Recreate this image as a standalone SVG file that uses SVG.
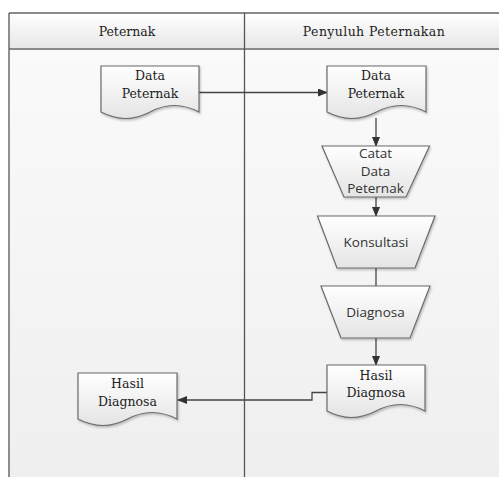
<svg xmlns="http://www.w3.org/2000/svg" width="499" height="477" viewBox="0 0 499 477">
  <defs>
    <linearGradient id="hdr" x1="0" y1="0" x2="0" y2="1">
      <stop offset="0" stop-color="#ffffff"/>
      <stop offset="1" stop-color="#e6e6e6"/>
    </linearGradient>
    <linearGradient id="body" x1="0" y1="0" x2="0" y2="1">
      <stop offset="0" stop-color="#fbfbfb"/>
      <stop offset="1" stop-color="#efefef"/>
    </linearGradient>
    <linearGradient id="shape" x1="0" y1="0" x2="0" y2="1">
      <stop offset="0" stop-color="#ffffff"/>
      <stop offset="1" stop-color="#e4e4e4"/>
    </linearGradient>
    <filter id="sh" x="-10%" y="-10%" width="130%" height="130%">
      <feDropShadow dx="1" dy="1.5" stdDeviation="1" flood-color="#000" flood-opacity="0.25"/>
    </filter>
    <marker id="arr" markerWidth="10" markerHeight="8" refX="9" refY="4" orient="auto" markerUnits="userSpaceOnUse">
      <path d="M0,0 L10,4 L0,8 Z" fill="#333"/>
    </marker>
  </defs>
  <style>
    .shape { fill: url(#shape); stroke: #6b6b6b; stroke-width: 1.2; filter: url(#sh); }
    .serif { font-family: "DejaVu Serif", "Liberation Serif", serif; font-size: 12.5px; fill: #222; text-anchor: middle; }
    .sans { font-family: "Open Sans", "DejaVu Sans", sans-serif; font-size: 13.5px; fill: #333; text-anchor: middle; }
    .conn { fill: none; stroke: #444; stroke-width: 1.3; }
    .lane { stroke: #555; stroke-width: 1.3; fill: none; }
  </style>

  <rect x="0" y="0" width="499" height="477" fill="#ffffff"/>
  <g id="swimlanes">
    <rect x="9" y="13" width="492" height="466" fill="url(#body)"/>
    <rect x="9" y="13" width="492" height="36" fill="url(#hdr)"/>
    <line x1="9" y1="13" x2="501" y2="13" stroke="#8a8a8a" stroke-width="2"/>
    <line x1="9" y1="49" x2="501" y2="49" stroke="#8a8a8a" stroke-width="2"/>
    <line class="lane" x1="9" y1="13" x2="9" y2="477"/>
    <line class="lane" x1="244.5" y1="13" x2="244.5" y2="477"/>
    <text class="serif" x="127" y="35.5">Peternak</text>
    <text class="serif" x="374" y="35.5" letter-spacing="0.4">Penyuluh Peternakan</text>
  </g>

  <g id="connectors">
    <line class="conn" x1="199" y1="92.5" x2="327" y2="92.5" marker-end="url(#arr)"/>
    <line class="conn" x1="376" y1="118" x2="376" y2="146" marker-end="url(#arr)"/>
    <line class="conn" x1="376" y1="197" x2="376" y2="216" marker-end="url(#arr)"/>
    <line class="conn" x1="376" y1="268" x2="376" y2="286"/>
    <line class="conn" x1="376" y1="338" x2="376" y2="365" marker-end="url(#arr)"/>
    <polyline class="conn" points="327,392.5 312,392.5 312,400 178,400" marker-end="url(#arr)"/>
  </g>

  <g id="data-peternak-1">
    <path class="shape" d="M101,66 H199 V112 Q174,99 150,112 T101,112 Z"/>
    <text class="serif" x="150" y="80">Data</text>
    <text class="serif" x="150" y="98">Peternak</text>
  </g>

  <g id="data-peternak-2">
    <path class="shape" d="M327,66 H426 V112 Q401,99 376.5,112 T327,112 Z"/>
    <text class="serif" x="376" y="80">Data</text>
    <text class="serif" x="376" y="98">Peternak</text>
  </g>

  <g id="catat-data-peternak">
    <path class="shape" d="M322,146 H429.5 L406,197 H344 Z"/>
    <text class="sans" x="375.5" y="158">Catat</text>
    <text class="sans" x="375.5" y="175.5">Data</text>
    <text class="sans" x="375.5" y="193">Peternak</text>
  </g>

  <g id="konsultasi">
    <path class="shape" d="M317.5,216 H435 L415,268 H337 Z"/>
    <text class="sans" x="376" y="246.5">Konsultasi</text>
  </g>

  <g id="diagnosa">
    <path class="shape" d="M321,286 H430 L410,338 H341 Z"/>
    <text class="sans" x="375.5" y="316.5">Diagnosa</text>
  </g>

  <g id="hasil-diagnosa-2">
    <path class="shape" d="M327,365 H425 V411 Q400.5,398 376,411 T327,411 Z"/>
    <text class="serif" x="376" y="380">Hasil</text>
    <text class="serif" x="376" y="397">Diagnosa</text>
  </g>

  <g id="hasil-diagnosa-1">
    <path class="shape" d="M78,373 H177 V419 Q152,406 127.5,419 T78,419 Z"/>
    <text class="serif" x="127.5" y="388">Hasil</text>
    <text class="serif" x="127.5" y="405.5">Diagnosa</text>
  </g>
</svg>
